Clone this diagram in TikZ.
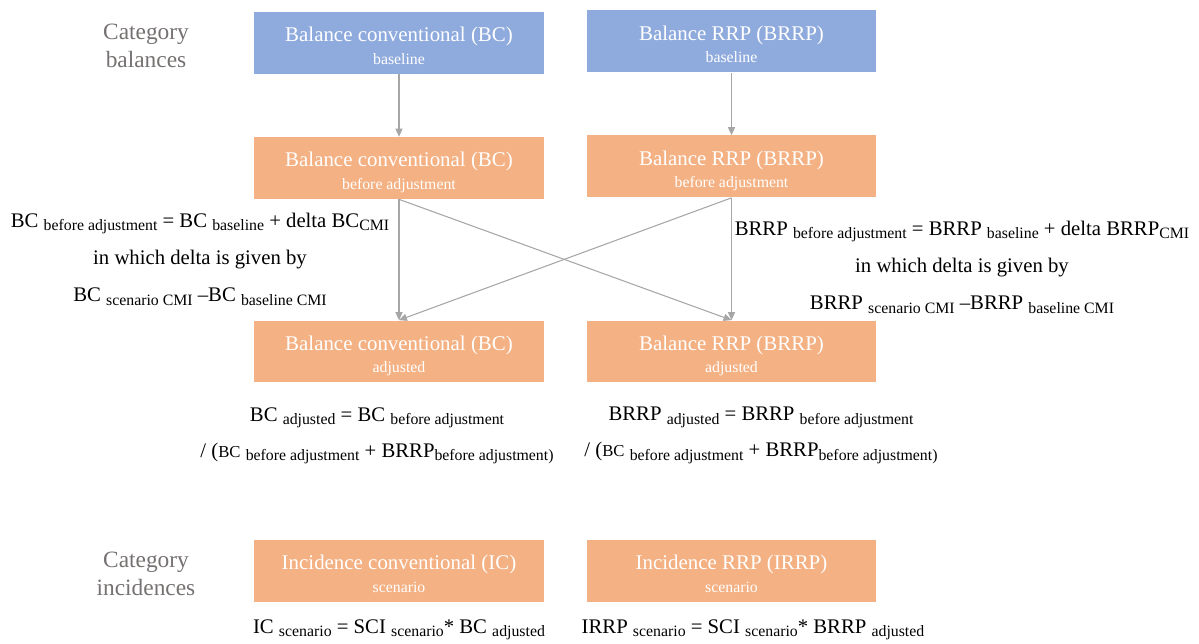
\documentclass[tikz,border=0pt]{standalone}
\usepackage{fontspec}
\setmainfont{Liberation Serif}
\usetikzlibrary{arrows.meta, positioning}

\definecolor{baseblue}{HTML}{8FAADC}
\definecolor{adjorange}{HTML}{F4B183}
\definecolor{linkgray}{HTML}{A6A6A6}
\definecolor{catgray}{HTML}{767171}

\newcommand{\sbt}[1]{\raisebox{-0.35ex}{\fontsize{9}{10}\selectfont #1}}
\newcommand{\boxlbl}[2]{\rule{0pt}{14.4pt}#1\\{\fontsize{9}{10}\selectfont #2}\rule[-3pt]{0pt}{3pt}}

\begin{document}
\begin{tikzpicture}[x=0.02cm, y=-0.02cm, >={Triangle[length=4.5pt, width=4pt]},
    balbox/.style={minimum width=5.8cm, minimum height=1.24cm, inner sep=0pt, align=center, text=white, font=\fontsize{11.9}{12.6}\selectfont},
    basefill/.style={balbox, fill=baseblue},
    adjfill/.style={balbox, fill=adjorange},
    formula/.style={align=center, font=\fontsize{11.8}{21.3}\selectfont},
    catlabel/.style={align=center, text=catgray, font=\fontsize{13.3}{16}\selectfont},
    link/.style={->, draw=linkgray, line width=0.6pt}]
        \useasboundingbox (0,0) rectangle (1199,644);

        % Categories
        \node[catlabel] (catbal) at (146,46) {Category\\balances};
        \node[catlabel] (catinc) at (146,574) {Category\\incidences};

        % Baseline
        \node[basefill] (bcbase) at (399,43) {\boxlbl{Balance conventional (BC)}{baseline}};
        \node[basefill] (rrbase) at (731.5,41.5) {\boxlbl{Balance RRP (BRRP)}{baseline}};

        % Before adjustment
        \node[adjfill] (bcpre) at (399,168) {\boxlbl{Balance conventional (BC)}{before adjustment}};
        \node[adjfill] (rrpre) at (731.5,166.5) {\boxlbl{Balance RRP (BRRP)}{before adjustment}};

        % Adjusted
        \node[adjfill] (bcadj) at (399,351.5) {\boxlbl{Balance conventional (BC)}{adjusted}};
        \node[adjfill] (rradj) at (731.5,351.5) {\boxlbl{Balance RRP (BRRP)}{adjusted}};

        % Incidences
        \node[adjfill] (icscn) at (399,571) {\boxlbl{Incidence conventional (IC)}{scenario}};
        \node[adjfill] (irscn) at (731.5,571) {\boxlbl{Incidence RRP (IRRP)}{scenario}};

        % Formulas
        \node[formula] (fbcpre) at (200,259) {BC \sbt{before adjustment} = BC \sbt{baseline} + delta BC\sbt{CMI}\\in which delta is given by\\BC \sbt{scenario CMI} –BC \sbt{baseline CMI}};
        \node[formula] (frrpre) at (962,267) {BRRP \sbt{before adjustment} = BRRP \sbt{baseline} + delta BRRP\sbt{CMI}\\in which delta is given by\\BRRP \sbt{scenario CMI} –BRRP \sbt{baseline CMI}};
        \node[formula, font=\fontsize{11.8}{20.5}\selectfont] (fbcadj) at (377,435.5) {BC \sbt{adjusted} = BC \sbt{before adjustment}\\/ ({\fontsize{9.5}{10}\selectfont BC} \sbt{before adjustment} + BRRP\sbt{before adjustment)}};
        \node[formula, font=\fontsize{11.8}{20.5}\selectfont] (frradj) at (761,435.5) {BRRP \sbt{adjusted} = BRRP \sbt{before adjustment}\\/ ({\fontsize{9.5}{10}\selectfont BC} \sbt{before adjustment} + BRRP\sbt{before adjustment)}};
        \node[formula, anchor=base] (ficscn) at (399,633) {IC \sbt{scenario} = SCI \sbt{scenario}* BC \sbt{adjusted}};
        \node[formula, anchor=base] (firscn) at (753,633) {IRRP \sbt{scenario} = SCI \sbt{scenario}* BRRP \sbt{adjusted}};

        % Edges
        \draw[link] (bcbase.south) -- (bcpre.north);
        \draw[link] (rrbase.south) -- (rrpre.north);
        \draw[link] (bcpre.south) -- (bcadj.north);
        \draw[link] (bcpre.south) -- (rradj.north);
        \draw[link] (rrpre.south) -- (rradj.north);
        \draw[link] (rrpre.south) -- (bcadj.north);
\end{tikzpicture}
\end{document}
